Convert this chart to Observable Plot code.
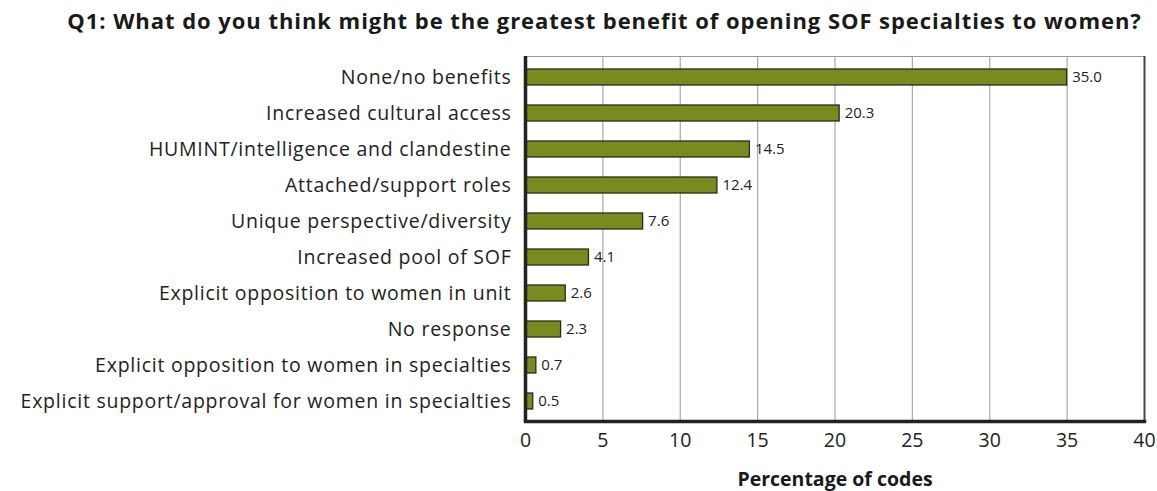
<!DOCTYPE html>
<html>
<head>
<meta charset="utf-8">
<script src="https://cdn.jsdelivr.net/npm/d3@7"></script>
<script src="https://cdn.jsdelivr.net/npm/@observablehq/plot@0.6"></script>
<style>
  html, body { margin: 0; padding: 0; background: #fff; overflow: hidden; }
  #title { font-family: "Open Sans", sans-serif; font-weight: bold; font-size: 22px; letter-spacing: 0.95px; color: #1a1a1a;
           text-align: center; height: 40px; line-height: 40px; width: 1157px; padding-left: 52px; box-sizing: border-box; white-space: nowrap; }
  #chart svg { display: block; }
  #chart svg [aria-label="y-axis tick label"] { letter-spacing: 0.75px; }
</style>
</head>
<body>
<div id="title">Q1: What do you think might be the greatest benefit of opening SOF specialties to women?</div>
<div id="chart"></div>
<script>
const categories = [
  "None/no benefits",
  "Increased cultural access",
  "HUMINT/intelligence and clandestine",
  "Attached/support roles",
  "Unique perspective/diversity",
  "Increased pool of SOF",
  "Explicit opposition to women in unit",
  "No response",
  "Explicit opposition to women in specialties",
  "Explicit support/approval for women in specialties"
];
const values = [35.0, 20.3, 14.5, 12.4, 7.6, 4.1, 2.6, 2.3, 0.7, 0.5];
const xTicks = [0, 5, 10, 15, 20, 25, 30, 35, 40];

const data = categories.map((c, i) => ({category: c, value: values[i]}));

const chart = Plot.plot({
  width: 1157,
  height: 451,
  marginTop: 16,
  marginBottom: 70,
  marginLeft: 525,
  marginRight: 13,
  style: {fontFamily: "Open Sans, sans-serif", background: "#fff"},
  x: {domain: [0, 40], ticks: xTicks, label: null},
  y: {domain: categories, paddingInner: 0.56, paddingOuter: 0.28, label: null},
  marks: [
    Plot.gridX(xTicks.filter(t => t > 0 && t < 40), {stroke: "#aaa", strokeOpacity: 1, strokeWidth: 1.2}),
    Plot.frame({anchor: "top", stroke: "#999", strokeWidth: 1.2}),
    Plot.barX(data, {x: "value", y: "category", fill: "#788b1f", stroke: "#2a2a1a", strokeWidth: 1.3}),
    Plot.text(data, {x: "value", y: "category", text: d => d.value.toFixed(1), textAnchor: "start", dx: 5, fontSize: 15, fill: "#222"}),
    Plot.axisY({tickSize: 0, tickPadding: 14, fontSize: 19.5, fill: "#222"}),
    Plot.axisX({ticks: xTicks, tickSize: 0, tickPadding: 12, fontSize: 19.5, fill: "#222"}),
    Plot.axisX({ticks: [], label: "Percentage of codes", labelAnchor: "center", labelArrow: "none", labelOffset: 64, fontSize: 19.5, fontWeight: "bold", fill: "#1a1a1a"}),
    Plot.ruleX([0], {stroke: "#222", strokeWidth: 3.5}),
    Plot.ruleX([40], {stroke: "#444", strokeWidth: 2}),
    Plot.frame({anchor: "bottom", stroke: "#222", strokeWidth: 3.5})
  ]
});
document.getElementById("chart").appendChild(chart);
</script>
</body>
</html>
